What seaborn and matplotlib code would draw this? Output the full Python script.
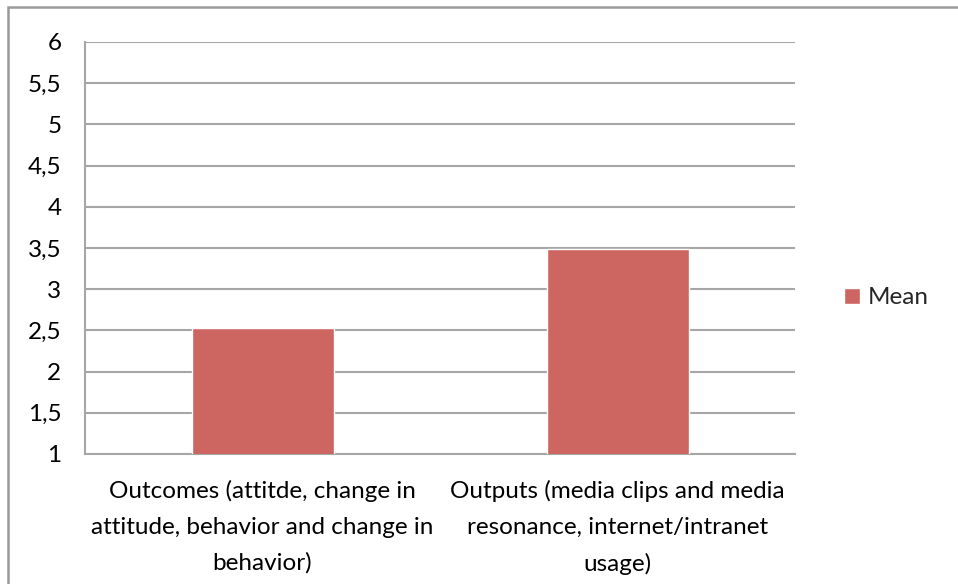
import matplotlib
matplotlib.use("Agg")
import matplotlib.pyplot as plt
from matplotlib.patches import Rectangle
import seaborn as sns
import pandas as pd

categories = [
    "Outcomes (attitde, change in\nattitude, behavior and change in\nbehavior)",
    "Outputs (media clips and media\nresonance, internet/intranet\nusage)",
]
means = [2.53, 3.49]
series_name = "Mean"
y_ticks = [1, 1.5, 2, 2.5, 3, 3.5, 4, 4.5, 5, 5.5, 6]
y_tick_labels = ["1", "1,5", "2", "2,5", "3", "3,5", "4", "4,5", "5", "5,5", "6"]

sns.set_style("white")
plt.rcParams["font.family"] = ["Lato", "DejaVu Sans"]

W, H = 958, 584
fig = plt.figure(figsize=(W / 100, H / 100), dpi=100)
ax = fig.add_axes([85 / W, (H - 454) / H, 710 / W, 412 / H])

bar_color = "#CD6660"
grid_color = "#A6A6A6"
fs = 17.5

df = pd.DataFrame({"category": categories, "value": means})
sns.barplot(data=df, x="category", y="value", color=bar_color, width=0.4,
            saturation=1, ax=ax, zorder=3, label=series_name)

ax.set_ylim(1, 6)
ax.set_xlim(-0.5, 1.5)
ax.set_yticks(y_ticks)
ax.set_yticklabels(y_tick_labels)
ax.yaxis.grid(True, color=grid_color, linewidth=1.5, zorder=0)
ax.set_axisbelow(True)
ax.tick_params(axis="both", length=0, labelsize=fs, colors="#000000")
ax.tick_params(axis="y", pad=17)
ax.tick_params(axis="x", pad=19)
for lbl in ax.get_xticklabels():
    lbl.set_linespacing(1.83)
    lbl.set_verticalalignment("top")
ax.set_xlabel("")
ax.set_ylabel("")

for side in ["top", "right"]:
    ax.spines[side].set_visible(False)
for side in ["left", "bottom"]:
    ax.spines[side].set_color(grid_color)
    ax.spines[side].set_linewidth(1.5)

leg = ax.legend(loc="center left", bbox_to_anchor=(844 / W, 1 - 298 / H),
                bbox_transform=fig.transFigure, frameon=False, fontsize=fs,
                handlelength=0.66, handleheight=0.66, handletextpad=0.3,
                borderaxespad=0, borderpad=0)

# chart-area frame
fig.patches.append(Rectangle((8 / W, -0.05), 1.1, 1 - 7 / H + 0.05,
                             transform=fig.transFigure, fill=False,
                             edgecolor="#999999", linewidth=1.8, zorder=0))

fig.savefig("out.png", dpi=100)
